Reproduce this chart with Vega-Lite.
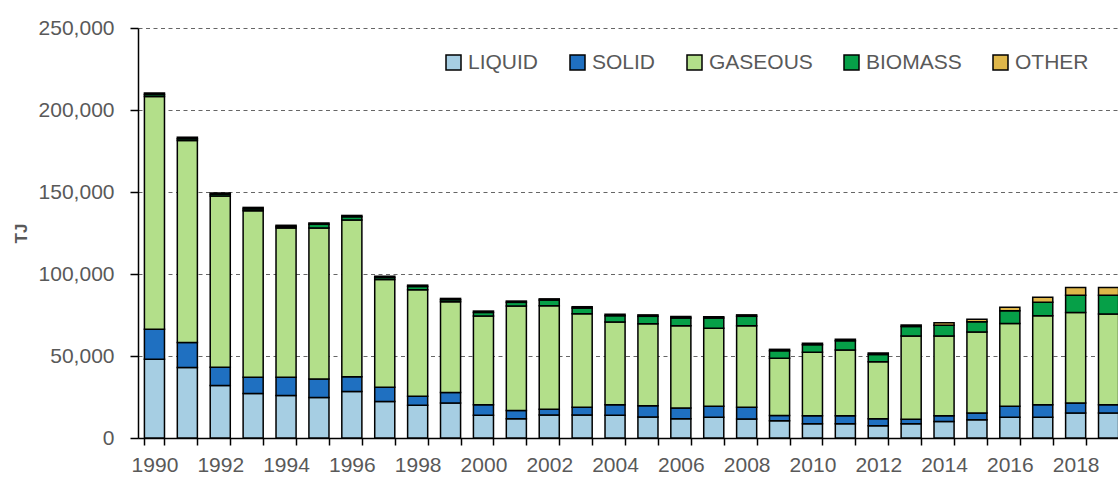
{
  "$schema": "https://vega.github.io/schema/vega-lite/v6.json",
  "width": 980,
  "height": 410,
  "autosize": "none",
  "padding": {"left": 138, "top": 28, "right": 0, "bottom": 42},
  "background": "white",
  "config": {"view": {"stroke": null}, "font": "Liberation Sans"},
  "data": {
    "values": [
      {"year": "1990", "LIQUID": 48000, "SOLID": 18300, "GASEOUS": 142000, "BIOMASS": 1100, "OTHER": 900},
      {"year": "1991", "LIQUID": 43000, "SOLID": 15200, "GASEOUS": 123200, "BIOMASS": 1100, "OTHER": 900},
      {"year": "1992", "LIQUID": 32000, "SOLID": 11200, "GASEOUS": 104400, "BIOMASS": 1000, "OTHER": 800},
      {"year": "1993", "LIQUID": 27200, "SOLID": 9900, "GASEOUS": 101500, "BIOMASS": 1100, "OTHER": 900},
      {"year": "1994", "LIQUID": 25900, "SOLID": 11200, "GASEOUS": 91000, "BIOMASS": 900, "OTHER": 700},
      {"year": "1995", "LIQUID": 24700, "SOLID": 11200, "GASEOUS": 92200, "BIOMASS": 2200, "OTHER": 800},
      {"year": "1996", "LIQUID": 28400, "SOLID": 8900, "GASEOUS": 95600, "BIOMASS": 2000, "OTHER": 800},
      {"year": "1997", "LIQUID": 22300, "SOLID": 8700, "GASEOUS": 65700, "BIOMASS": 1200, "OTHER": 800},
      {"year": "1998", "LIQUID": 19900, "SOLID": 5500, "GASEOUS": 65000, "BIOMASS": 2000, "OTHER": 800},
      {"year": "1999", "LIQUID": 21300, "SOLID": 6500, "GASEOUS": 55300, "BIOMASS": 1200, "OTHER": 800},
      {"year": "2000", "LIQUID": 13800, "SOLID": 6500, "GASEOUS": 54100, "BIOMASS": 2200, "OTHER": 800},
      {"year": "2001", "LIQUID": 11800, "SOLID": 4900, "GASEOUS": 63800, "BIOMASS": 2200, "OTHER": 800},
      {"year": "2002", "LIQUID": 14000, "SOLID": 3600, "GASEOUS": 63000, "BIOMASS": 3500, "OTHER": 750},
      {"year": "2003", "LIQUID": 14000, "SOLID": 4700, "GASEOUS": 57100, "BIOMASS": 3400, "OTHER": 850},
      {"year": "2004", "LIQUID": 13800, "SOLID": 6500, "GASEOUS": 50500, "BIOMASS": 3800, "OTHER": 860},
      {"year": "2005", "LIQUID": 12800, "SOLID": 6900, "GASEOUS": 49900, "BIOMASS": 4600, "OTHER": 870},
      {"year": "2006", "LIQUID": 11800, "SOLID": 6500, "GASEOUS": 50100, "BIOMASS": 4800, "OTHER": 880},
      {"year": "2007", "LIQUID": 12600, "SOLID": 6700, "GASEOUS": 47600, "BIOMASS": 6200, "OTHER": 890},
      {"year": "2008", "LIQUID": 11600, "SOLID": 7100, "GASEOUS": 49700, "BIOMASS": 5800, "OTHER": 890},
      {"year": "2009", "LIQUID": 10500, "SOLID": 3200, "GASEOUS": 34900, "BIOMASS": 4600, "OTHER": 870},
      {"year": "2010", "LIQUID": 8700, "SOLID": 4900, "GASEOUS": 38700, "BIOMASS": 4600, "OTHER": 870},
      {"year": "2011", "LIQUID": 8700, "SOLID": 4900, "GASEOUS": 40100, "BIOMASS": 5600, "OTHER": 890},
      {"year": "2012", "LIQUID": 7500, "SOLID": 4300, "GASEOUS": 34700, "BIOMASS": 4400, "OTHER": 870},
      {"year": "2013", "LIQUID": 8700, "SOLID": 2800, "GASEOUS": 50700, "BIOMASS": 5800, "OTHER": 890},
      {"year": "2014", "LIQUID": 10100, "SOLID": 3500, "GASEOUS": 48600, "BIOMASS": 6600, "OTHER": 1500},
      {"year": "2015", "LIQUID": 11200, "SOLID": 4000, "GASEOUS": 49500, "BIOMASS": 6200, "OTHER": 1500},
      {"year": "2016", "LIQUID": 12600, "SOLID": 6700, "GASEOUS": 50500, "BIOMASS": 7800, "OTHER": 2100},
      {"year": "2017", "LIQUID": 12600, "SOLID": 7700, "GASEOUS": 54300, "BIOMASS": 8150, "OTHER": 3000},
      {"year": "2018", "LIQUID": 15200, "SOLID": 6100, "GASEOUS": 55300, "BIOMASS": 10500, "OTHER": 4700},
      {"year": "2019", "LIQUID": 15200, "SOLID": 5100, "GASEOUS": 55300, "BIOMASS": 11500, "OTHER": 4700}
    ]
  },
  "transform": [
    {"fold": ["LIQUID", "SOLID", "GASEOUS", "BIOMASS", "OTHER"], "as": ["fuel", "tj"]},
    {"calculate": "indexof(['LIQUID','SOLID','GASEOUS','BIOMASS','OTHER'], datum.fuel)", "as": "rank"}
  ],
  "mark": {"type": "bar", "stroke": "black", "strokeWidth": 1.5},
  "encoding": {
    "x": {
      "field": "year",
      "type": "ordinal",
      "scale": {"range": [0, 987], "paddingInner": 0.39, "paddingOuter": 0.195},
      "axis": {
        "title": null,
        "labelAngle": 0,
        "labelExpr": "toNumber(datum.value) % 2 == 0 ? datum.label : ''",
        "tickBand": "extent",
        "domainColor": "black",
        "domainWidth": 1.5,
        "tickColor": "black",
        "tickWidth": 1.5,
        "tickSize": 7,
        "labelPadding": 9,
        "labelFontSize": 21,
        "labelColor": "#595959",
        "labelFont": "Liberation Sans"
      }
    },
    "y": {
      "field": "tj",
      "type": "quantitative",
      "stack": "zero",
      "scale": {"domain": [0, 250000], "nice": false},
      "axis": {
        "title": "TJ",
        "titleFontSize": 17,
        "titleFontWeight": "bold",
        "titleColor": "#595959",
        "titlePadding": 8,
        "values": [0, 50000, 100000, 150000, 200000, 250000],
        "format": ",.0f",
        "domainColor": "black",
        "domainWidth": 1.5,
        "tickColor": "black",
        "tickWidth": 1.5,
        "tickSize": 8,
        "labelPadding": 16,
        "labelFontSize": 21,
        "labelColor": "#595959",
        "grid": true,
        "gridDash": [4, 3.5],
        "gridColor": "#666666",
        "gridWidth": 1.2
      }
    },
    "color": {
      "field": "fuel",
      "type": "nominal",
      "scale": {
        "domain": ["LIQUID", "SOLID", "GASEOUS", "BIOMASS", "OTHER"],
        "range": ["#a6cee3", "#1f70c1", "#b3df8a", "#06a048", "#dfb74a"]
      },
      "legend": {
        "title": null,
        "orient": "none",
        "direction": "horizontal",
        "legendX": 305,
        "legendY": 24,
        "symbolType": "square",
        "symbolSize": 225,
        "symbolStrokeColor": "black",
        "symbolStrokeWidth": 1.5,
        "symbolOpacity": 1,
        "labelFontSize": 21,
        "labelColor": "#595959",
        "labelOffset": 4,
        "columnPadding": 28,
        "padding": 0
      }
    },
    "order": {"field": "rank", "type": "quantitative", "sort": "ascending"}
  }
}
